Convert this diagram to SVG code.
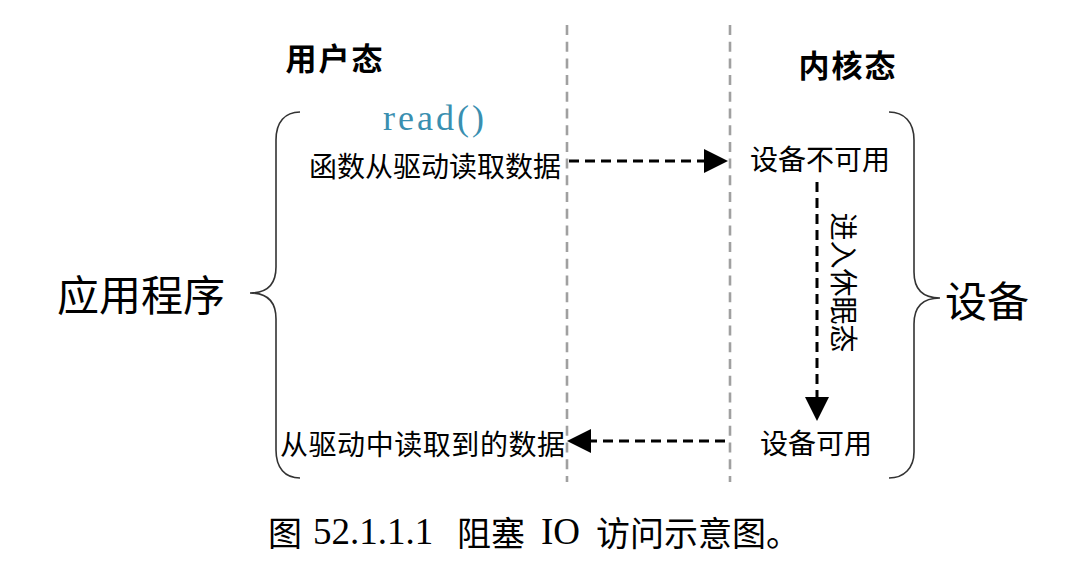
<svg xmlns="http://www.w3.org/2000/svg" width="1090" height="562" viewBox="0 0 1090 562">
<style>
.cjk{font-family:"Noto Sans CJK SC",sans-serif;fill:#000;dominant-baseline:central}
.lbl{font-size:28px}
.big{font-size:42px}
.hdr{font-size:31px;font-weight:bold}
.brace{fill:none;stroke:#333;stroke-width:1.6}
.sep{stroke:#a0a0a0;stroke-width:2.6;stroke-dasharray:10 6.7;fill:none}
.arr{stroke:#000;stroke-width:3;stroke-dasharray:10 6;fill:none}
</style>
<defs>
<marker id="ah" markerUnits="userSpaceOnUse" markerWidth="24" markerHeight="24" viewBox="0 0 24 24" refX="23" refY="12" orient="auto">
<path d="M0,0 L24,12 L0,24 Z" fill="#000"/>
</marker>
</defs>
<rect width="1090" height="562" fill="#fff"/>
<g id="separators">
<line class="sep" x1="567" y1="25" x2="567" y2="482"/>
<line class="sep" x1="730" y1="25" x2="730" y2="482"/>
</g>
<g id="header-user"><text class="cjk hdr" x="335" y="56" text-anchor="middle" letter-spacing="2">用户态</text></g>
<g id="header-kernel"><text class="cjk hdr" x="848" y="63" text-anchor="middle" letter-spacing="2">内核态</text></g>
<g id="app">
<path class="brace" d="M300,112 C285,112 276,122 276,140 L276,267 C276,283 268,293 250,293 C268,293 276,303 276,319 L276,450 C276,468 285,478 300,478"/>
<text class="cjk big" x="57" y="292">应用程序</text>
</g>
<g id="read-call">
<text x="383" y="118" font-family="Liberation Serif, serif" font-size="36" fill="#3a8fb0" dominant-baseline="central" textLength="101" lengthAdjust="spacing">read()</text>
<text class="cjk lbl" x="309" y="164.5">函数从驱动读取数据</text>
</g>
<g id="read-result"><text class="cjk lbl" x="280" y="443" textLength="285">从驱动中读取到的数据</text></g>
<g id="device">
<path class="brace" d="M889,112 C904,112 914,122 914,140 L914,272 C914,288 922,298 940,298 C922,298 914,308 914,324 L914,452 C914,468 904,478 889,478"/>
<text class="cjk big" x="945" y="298">设备</text>
</g>
<g id="dev-unavail"><text class="cjk lbl" x="750" y="157.5">设备不可用</text></g>
<g id="dev-avail"><text class="cjk lbl" x="760" y="441.5">设备可用</text></g>
<g id="connectors">
<line class="arr" x1="569" y1="161" x2="727" y2="161" marker-end="url(#ah)"/>
<line class="arr" x1="817" y1="182" x2="817" y2="420" marker-end="url(#ah)"/>
<line class="arr" x1="725" y1="441" x2="568" y2="441" marker-end="url(#ah)"/>
<text class="cjk lbl" x="844.5" y="282.5" text-anchor="middle" transform="rotate(90 844.5 282.5)">进入休眠态</text>
</g>
<g id="caption">
<text y="531" font-size="34" dominant-baseline="central" fill="#000"><tspan x="268" font-family="Noto Sans CJK SC, sans-serif">图</tspan><tspan x="313" font-family="Liberation Serif, serif" font-size="37">52.1.1.1</tspan><tspan x="457" font-family="Noto Sans CJK SC, sans-serif">阻塞</tspan><tspan x="541" font-family="Liberation Serif, serif" font-size="37">IO</tspan><tspan x="596" font-family="Noto Sans CJK SC, sans-serif">访问示意图。</tspan></text>
</g>
</svg>
